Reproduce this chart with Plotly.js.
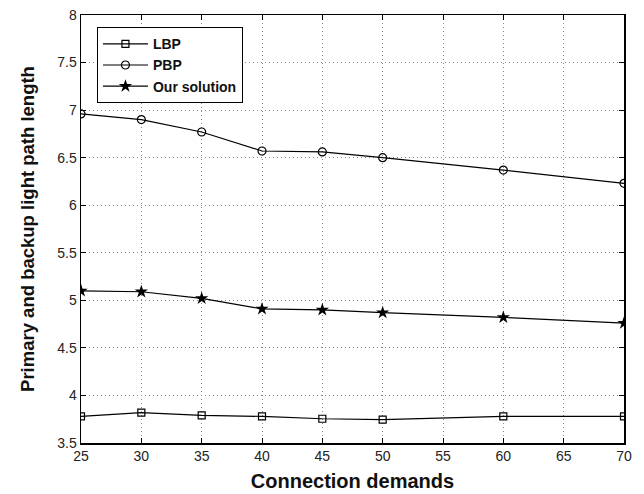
<!DOCTYPE html>
<html>
<head>
<meta charset="utf-8">
<script src="https://cdn.plot.ly/plotly-3.0.1.min.js"></script>
<style>html,body{margin:0;padding:0;background:#fff}#chart{width:644px;height:494px}</style>
</head>
<body>
<div id="chart"></div>
<script>
const demands = [25, 30, 35, 40, 45, 50, 60, 70];
const lbp = [3.78, 3.82, 3.79, 3.78, 3.755, 3.745, 3.78, 3.78];
const pbp = [6.96, 6.9, 6.77, 6.57, 6.56, 6.5, 6.37, 6.23];
const ours = [5.1, 5.09, 5.02, 4.91, 4.9, 4.87, 4.82, 4.76];
const xTicks = [25, 30, 35, 40, 45, 50, 55, 60, 65, 70];
const yTicks = [3.5, 4, 4.5, 5, 5.5, 6, 6.5, 7, 7.5, 8];

const line = {color: '#000', width: 1.2};
const traces = [
  {x: demands, y: lbp, name: 'LBP', mode: 'lines+markers', line: line,
   marker: {symbol: 'square-open', size: 7, color: '#000', line: {width: 1.2}}},
  {x: demands, y: pbp, name: 'PBP', mode: 'lines+markers', line: line,
   marker: {symbol: 'circle-open', size: 8, color: '#000', line: {width: 1.2}}},
  {x: demands, y: ours, name: 'Our solution', mode: 'lines+markers', line: line,
   marker: {symbol: 'star', size: 10, color: '#000', line: {width: 0}}}
];
const axisCommon = {
  showline: true, linecolor: '#000', linewidth: 1.5, mirror: 'ticks',
  ticks: 'inside', ticklen: 5, tickcolor: '#000', tickwidth: 1,
  showgrid: true, gridcolor: '#888', griddash: '1px,3px', gridwidth: 1,
  zeroline: false,
  tickfont: {family: 'Liberation Sans, Arial, sans-serif', size: 14, color: '#222'}
};
const layout = {
  width: 644, height: 494,
  margin: {l: 81, r: 20, t: 15, b: 51},
  paper_bgcolor: '#fff', plot_bgcolor: '#fff',
  showlegend: true,
  legend: {x: 0.029, y: 0.972, xanchor: 'left', yanchor: 'top',
    bordercolor: '#000', borderwidth: 1.2, bgcolor: '#fff',
    font: {family: 'Liberation Sans, Arial, sans-serif', size: 14, color: '#111', weight: 'bold'},
    tracegroupgap: 0, itemwidth: 45},
  xaxis: Object.assign({}, axisCommon, {
    range: [25, 70], tickvals: xTicks, ticktext: xTicks.map(String),
    title: {text: '<b>Connection demands</b>', standoff: 10,
      font: {family: 'Liberation Sans, Arial, sans-serif', size: 20, color: '#111'}}
  }),
  yaxis: Object.assign({}, axisCommon, {
    range: [3.5, 8], tickvals: yTicks, ticktext: yTicks.map(String),
    title: {text: '<b>Primary and backup light path length</b>', standoff: 18,
      font: {family: 'Liberation Sans, Arial, sans-serif', size: 18.5, color: '#111'}}
  })
};
Plotly.newPlot('chart', traces, layout, {displayModeBar: false, staticPlot: true});
</script>
</body>
</html>
